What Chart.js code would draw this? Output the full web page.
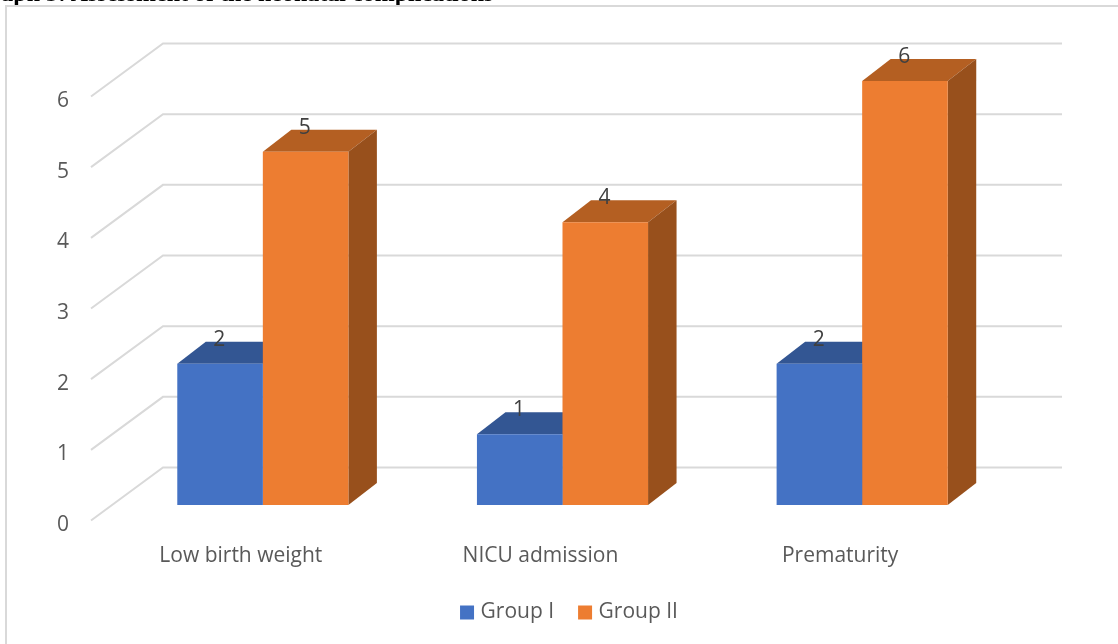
<!DOCTYPE html>
<html>
<head>
<meta charset="utf-8">
<style>
  html, body { margin: 0; background: #fff; }
  #wrap { position: relative; width: 1118px; height: 644px; overflow: hidden; }
  #chart { position: absolute; left: 0; top: 0; }
  #heading { position: absolute; left: -28px; top: -21px; transform: translateY(0.5px); will-change: transform; font: bold 24px "Liberation Serif", serif; color: #000; white-space: nowrap; }
  #frame { position: absolute; left: 5px; top: 5px; width: 1120px; height: 650px; border: 2px solid #d9d9d9; box-sizing: border-box; background: #fff; }
</style>
</head>
<body>
<div id="wrap">
  <div id="heading">Graph 3: Assessment of the neonatal complications</div>
  <div id="frame"></div>
  <canvas id="chart" width="1118" height="644"></canvas>
</div>
<script src="https://cdn.jsdelivr.net/npm/chart.js@4"></script>
<script>
const categories = ['Low birth weight', 'NICU admission', 'Prematurity'];
const groupOne = [2, 1, 2];
const groupTwo = [5, 4, 6];
const yTicks = [0, 1, 2, 3, 4, 5, 6];

const textColor = '#595959';
const gridColor = '#d9d9d9';
const uiFont = '"Open Sans", sans-serif';

// depth of the fake 3D box, bars sit in the middle of the floor
const barDepth = { x: 28.5, y: -22 };
const wallBack = { x: 50, y: -37.5 };
const wallFront = { x: -22, y: 15.5 };

const box3d = {
    id: 'box3d',
    afterLayout(chart) {
        // legend is not centred on the canvas
        chart.legend.left += 45;
        chart.legend.right += 45;
        chart.legend.top += 3;
    },
    beforeDatasetsDraw(chart) {
        const { ctx, chartArea, scales } = chart;
        ctx.save();
        ctx.strokeStyle = gridColor;
        ctx.lineWidth = 2;
        yTicks.forEach(v => {
            const y = scales.y.getPixelForValue(v);
            ctx.beginPath();
            ctx.moveTo(chartArea.left + wallFront.x, y + wallFront.y);
            ctx.lineTo(chartArea.left + wallBack.x, y + wallBack.y);
            ctx.lineTo(chartArea.right + wallBack.x, y + wallBack.y);
            ctx.stroke();
        });

        chart.data.datasets.forEach((ds, i) => {
            chart.getDatasetMeta(i).data.forEach(bar => {
                const l = bar.x - bar.width / 2;
                const r = bar.x + bar.width / 2;
                // top face
                ctx.fillStyle = ds.topColor;
                ctx.beginPath();
                ctx.moveTo(l, bar.y);
                ctx.lineTo(r, bar.y);
                ctx.lineTo(r + barDepth.x, bar.y + barDepth.y);
                ctx.lineTo(l + barDepth.x, bar.y + barDepth.y);
                ctx.closePath();
                ctx.fill();
                // right face
                ctx.fillStyle = ds.sideColor;
                ctx.beginPath();
                ctx.moveTo(r, bar.y);
                ctx.lineTo(r + barDepth.x, bar.y + barDepth.y);
                ctx.lineTo(r + barDepth.x, bar.base + barDepth.y);
                ctx.lineTo(r, bar.base);
                ctx.closePath();
                ctx.fill();
            });
        });
        ctx.restore();
    },
    afterDatasetsDraw(chart) {
        const { ctx } = chart;
        ctx.save();
        ctx.fillStyle = '#404040';
        ctx.font = '21px ' + uiFont;
        ctx.textAlign = 'center';
        ctx.textBaseline = 'middle';
        chart.data.datasets.forEach((ds, i) => {
            chart.getDatasetMeta(i).data.forEach((bar, j) => {
                ctx.fillText(ds.data[j], bar.x + 0.5 * barDepth.x - 15, bar.y - 24);
            });
        });
        ctx.restore();
    }
};

new Chart(document.getElementById('chart'), {
    type: 'bar',
    data: {
        labels: categories,
        datasets: [
            { label: 'Group I', data: groupOne, backgroundColor: '#4472c4', topColor: '#335693', sideColor: '#2f5597' },
            { label: 'Group II', data: groupTwo, backgroundColor: '#ed7d31', topColor: '#b45f22', sideColor: '#98501c' }
        ]
    },
    options: {
        responsive: false,
        animation: false,
        layout: { padding: { left: 40, right: 106, top: 81, bottom: 14 } },
        datasets: { bar: { categoryPercentage: 0.571, barPercentage: 1 } },
        plugins: {
            tooltip: { enabled: false },
            legend: {
                position: 'bottom',
                labels: {
                    boxWidth: 6,
                    boxHeight: 6,
                    padding: 28,
                    color: textColor,
                    font: { family: uiFont, size: 21 },
                    // small box plus a thick stroke, so the text sits close to the swatch
                    generateLabels(chart) {
                        return chart.data.datasets.map((ds, i) => ({
                            text: ds.label,
                            datasetIndex: i,
                            fillStyle: ds.backgroundColor,
                            strokeStyle: ds.backgroundColor,
                            lineWidth: 8,
                            fontColor: textColor
                        }));
                    }
                }
            }
        },
        scales: {
            x: {
                grid: { display: false },
                border: { display: false },
                afterFit(scale) { scale.height = 66; },
                ticks: { color: textColor, padding: 30, labelOffset: -22, maxRotation: 0, font: { family: uiFont, size: 21 } }
            },
            y: {
                min: 0,
                max: 6,
                grid: { display: false },
                border: { display: false },
                afterFit(scale) { scale.width = 73; },
                afterBuildTicks(scale) { scale.ticks = yTicks.map(v => ({ value: v })); },
                ticks: { color: textColor, padding: 36, labelOffset: 20, font: { family: uiFont, size: 21 } }
            }
        }
    },
    plugins: [box3d]
});
</script>
</body>
</html>
